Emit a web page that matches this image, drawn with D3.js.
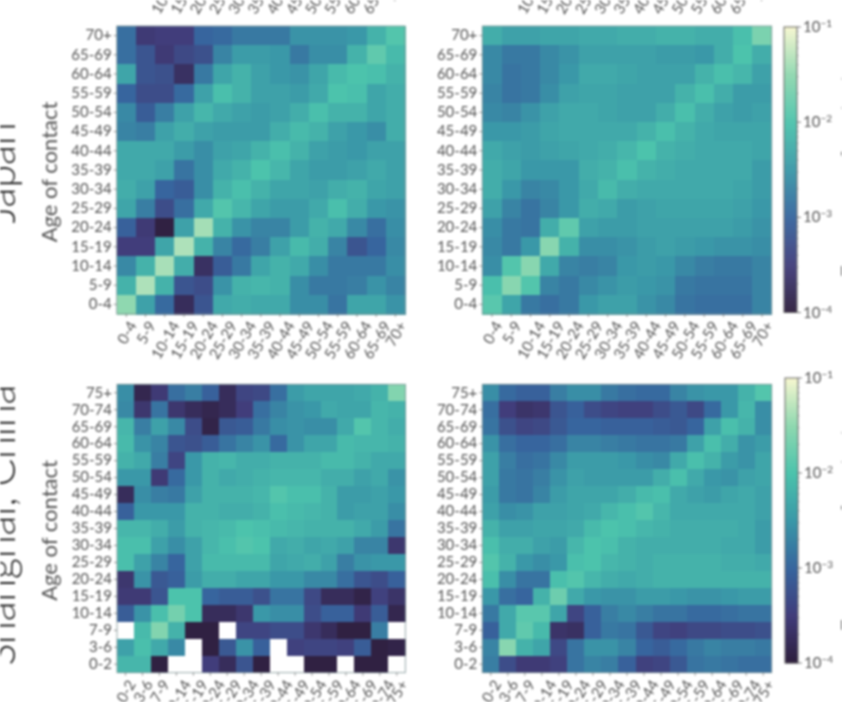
<!DOCTYPE html>
<html><head><meta charset="utf-8">
<script src="https://cdn.jsdelivr.net/npm/d3@7"></script>
<style>
html,body{margin:0;padding:0;background:#fff;overflow:hidden}
svg{display:block;filter:blur(0.8px)}
text{font-family:Lato,"Open Sans",sans-serif;font-weight:400}
</style></head><body><svg id="c" width="842" height="702"></svg>
<script>
const agesJapan=["0-4","5-9","10-14","15-19","20-24","25-29","30-34","35-39","40-44","45-49","50-54","55-59","60-64","65-69","70+"];
const agesShanghai=["0-2","3-6","7-9","10-14","15-19","20-24","25-29","30-34","35-39","40-44","45-49","50-54","55-59","60-64","65-69","70-74","75+"];
const colorStops=["#2e1e3c","#413d7b","#37659e","#3a98a8","#4cc3ac","#8fd8b0","#f7f7d0"];
const cbarTicks=[1e-4,1e-3,1e-2,1e-1];
const cbarLabels=["\u22124","\u22123","\u22122","\u22121"];
// log10 of the contact value, rows listed from the top row (oldest) to the bottom row (youngest)
const japanSurvey=[
[-2.9,-3.55,-3.5,-3.5,-3.0,-2.95,-2.8,-2.8,-2.8,-2.55,-2.55,-2.55,-2.5,-2.2,-1.95],
[-2.9,-3.2,-3.55,-3.35,-3.25,-2.7,-2.45,-2.45,-2.5,-2.8,-2.6,-2.6,-2.2,-1.85,-2.1],
[-2.35,-3.2,-3.25,-3.7,-2.8,-2.35,-2.2,-2.4,-2.5,-2.55,-2.35,-2.1,-2.0,-2.05,-2.2],
[-3.0,-3.3,-3.3,-2.95,-2.4,-2.05,-2.2,-2.4,-2.4,-2.45,-2.3,-2.0,-2.05,-2.35,-2.25],
[-2.65,-3.1,-2.75,-2.4,-2.15,-2.3,-2.4,-2.45,-2.4,-2.25,-2.05,-2.2,-2.2,-2.35,-2.25],
[-2.7,-2.75,-2.4,-2.25,-2.4,-2.45,-2.45,-2.45,-2.25,-2.1,-2.2,-2.4,-2.5,-2.6,-2.25],
[-2.3,-2.3,-2.3,-2.45,-2.6,-2.4,-2.35,-2.2,-2.05,-2.2,-2.4,-2.45,-2.5,-2.4,-2.4],
[-2.3,-2.3,-2.4,-2.85,-2.6,-2.3,-2.2,-2.0,-2.15,-2.35,-2.45,-2.45,-2.4,-2.3,-2.4],
[-2.25,-2.4,-3.0,-3.1,-2.6,-2.2,-2.05,-2.2,-2.35,-2.35,-2.4,-2.25,-2.2,-2.35,-2.4],
[-2.35,-2.75,-3.3,-2.9,-2.3,-1.95,-2.15,-2.35,-2.45,-2.45,-2.3,-2.05,-2.25,-2.5,-2.55],
[-3.05,-3.55,-3.95,-2.4,-1.4,-2.2,-2.55,-2.7,-2.7,-2.45,-2.2,-2.3,-2.65,-2.9,-2.6],
[-3.5,-3.5,-2.35,-1.35,-2.2,-2.7,-2.95,-2.75,-2.4,-2.1,-2.25,-2.7,-3.2,-3.0,-2.65],
[-2.65,-2.2,-1.38,-2.25,-3.7,-3.1,-2.8,-2.35,-2.2,-2.3,-2.6,-2.8,-2.8,-2.8,-2.6],
[-2.2,-1.35,-2.2,-3.2,-3.3,-2.55,-2.2,-2.15,-2.2,-2.6,-2.8,-2.8,-2.75,-2.55,-2.7],
[-1.5,-2.4,-2.95,-3.75,-3.2,-2.3,-2.25,-2.3,-2.3,-2.6,-2.6,-2.85,-2.35,-2.35,-2.55]];
const japanModel=[
[-2.25,-2.4,-2.4,-2.35,-2.35,-2.3,-2.3,-2.25,-2.25,-2.2,-2.2,-2.25,-2.25,-2.05,-1.65],
[-2.65,-2.8,-2.8,-2.65,-2.55,-2.4,-2.4,-2.4,-2.4,-2.45,-2.45,-2.5,-2.25,-2.0,-2.25],
[-2.65,-2.85,-2.8,-2.65,-2.5,-2.3,-2.3,-2.35,-2.4,-2.4,-2.4,-2.2,-2.05,-2.15,-2.4],
[-2.7,-2.85,-2.8,-2.6,-2.4,-2.35,-2.35,-2.4,-2.4,-2.4,-2.2,-2.05,-2.25,-2.45,-2.45],
[-2.65,-2.7,-2.55,-2.4,-2.3,-2.3,-2.35,-2.4,-2.4,-2.25,-2.05,-2.25,-2.4,-2.45,-2.4],
[-2.5,-2.5,-2.45,-2.35,-2.3,-2.3,-2.3,-2.3,-2.2,-2.05,-2.2,-2.3,-2.35,-2.35,-2.35],
[-2.3,-2.4,-2.45,-2.4,-2.35,-2.3,-2.25,-2.15,-2.0,-2.2,-2.25,-2.3,-2.3,-2.3,-2.35],
[-2.25,-2.35,-2.5,-2.5,-2.5,-2.25,-2.2,-2.05,-2.2,-2.25,-2.3,-2.3,-2.3,-2.3,-2.45],
[-2.25,-2.5,-2.7,-2.65,-2.5,-2.3,-2.1,-2.25,-2.3,-2.3,-2.3,-2.3,-2.3,-2.35,-2.45],
[-2.4,-2.7,-2.85,-2.7,-2.5,-2.25,-2.3,-2.45,-2.4,-2.35,-2.35,-2.35,-2.35,-2.4,-2.5],
[-2.6,-2.8,-2.85,-2.25,-1.85,-2.4,-2.45,-2.45,-2.4,-2.4,-2.4,-2.4,-2.4,-2.45,-2.55],
[-2.65,-2.8,-2.5,-1.55,-2.2,-2.6,-2.6,-2.55,-2.45,-2.4,-2.45,-2.5,-2.55,-2.55,-2.6],
[-2.6,-1.95,-1.55,-2.3,-2.7,-2.75,-2.7,-2.5,-2.45,-2.5,-2.65,-2.75,-2.8,-2.8,-2.7],
[-2.05,-1.55,-1.95,-2.7,-2.8,-2.65,-2.55,-2.45,-2.5,-2.55,-2.8,-2.85,-2.85,-2.85,-2.7],
[-1.9,-2.35,-2.8,-2.9,-2.8,-2.5,-2.4,-2.4,-2.55,-2.65,-2.85,-2.9,-2.9,-2.9,-2.7]];
const shanghaiSurvey=[
[-2.6,-3.85,-3.55,-2.9,-2.75,-3.05,-3.75,-3.4,-3.35,-2.9,-2.45,-2.35,-2.35,-2.35,-2.3,-2.2,-1.6],
[-2.65,-3.6,-2.85,-3.6,-3.75,-3.85,-3.75,-3.5,-2.9,-2.7,-2.55,-2.5,-2.3,-2.35,-2.35,-2.15,-2.2],
[-2.15,-2.75,-2.4,-2.65,-3.3,-3.9,-3.15,-3.1,-2.8,-2.6,-2.55,-2.6,-2.6,-2.3,-1.95,-2.15,-2.25],
[-2.1,-2.55,-2.7,-3.2,-3.25,-3.1,-2.85,-2.7,-2.55,-2.95,-2.55,-2.35,-2.35,-2.1,-2.15,-2.15,-2.2],
[-2.2,-2.3,-2.75,-3.4,-2.5,-2.2,-2.15,-2.25,-2.25,-2.2,-2.2,-2.2,-2.1,-2.1,-2.2,-2.3,-2.3],
[-2.5,-2.5,-3.55,-2.95,-2.5,-2.2,-2.3,-2.25,-2.2,-2.15,-2.15,-2.15,-2.25,-2.25,-2.4,-2.3,-2.55],
[-3.75,-2.6,-2.75,-2.8,-2.4,-2.2,-2.2,-2.2,-2.15,-1.95,-2.05,-2.05,-2.2,-2.45,-2.45,-2.4,-2.5],
[-3.05,-2.5,-2.5,-2.5,-2.2,-2.2,-2.25,-2.25,-2.2,-2.05,-2.1,-2.15,-2.2,-2.45,-2.4,-2.4,-2.6],
[-2.15,-2.15,-2.25,-2.45,-2.2,-2.15,-2.1,-2.0,-2.05,-2.1,-2.15,-2.2,-2.2,-2.2,-2.3,-2.45,-2.85],
[-2.05,-2.05,-2.4,-2.6,-2.4,-2.15,-2.05,-1.95,-2.0,-2.3,-2.25,-2.35,-2.3,-2.4,-2.7,-2.7,-3.6],
[-2.05,-2.4,-2.7,-3.0,-2.4,-2.1,-2.1,-2.1,-2.1,-2.35,-2.3,-2.25,-2.4,-2.75,-2.55,-2.5,-2.5],
[-3.6,-2.55,-3.15,-3.05,-2.45,-2.25,-2.25,-2.35,-2.35,-2.5,-2.5,-2.65,-2.65,-2.9,-3.2,-3.3,-3.05],
[-3.55,-3.55,-3.2,-2.0,-2.0,-3.0,-3.1,-3.1,-3.25,-2.85,-2.85,-3.35,-3.75,-3.75,-3.9,-3.45,-3.65],
[-3.1,-2.55,-2.05,-1.7,-2.0,-3.75,-3.75,-3.6,-2.5,-2.6,-2.6,-3.3,-3.05,-3.05,-3.55,-3.1,-3.85],
[null,-2.1,-1.6,-2.2,-3.95,-3.95,null,-3.4,-3.4,-3.3,-3.3,-3.6,-3.75,-3.95,-3.95,-2.75,null],
[-2.4,-2.05,-2.3,-2.65,null,-3.95,-3.15,-2.55,-3.05,null,-3.45,-3.4,-3.4,-3.45,-3.1,-3.95,-3.9],
[-2.15,-2.15,-3.95,null,null,-3.5,-3.75,-3.2,-3.95,null,null,-3.95,-3.95,null,-3.95,-3.95,null]];
const shanghaiModel=[
[-2.6,-2.95,-3.05,-3.05,-2.75,-2.6,-2.6,-2.8,-2.9,-2.95,-2.95,-2.7,-2.55,-2.5,-2.5,-2.2,-1.95],
[-2.9,-3.5,-3.65,-3.6,-3.2,-3.05,-3.3,-3.4,-3.45,-3.45,-3.3,-3.15,-3.35,-2.95,-2.5,-2.15,-2.6],
[-2.85,-3.25,-3.4,-3.35,-3.15,-3.0,-3.0,-3.05,-3.05,-3.05,-3.1,-3.15,-3.0,-2.4,-2.05,-2.2,-2.6],
[-2.55,-2.9,-3.0,-3.0,-2.9,-2.7,-2.7,-2.75,-2.8,-2.85,-2.85,-2.8,-2.4,-2.05,-2.25,-2.55,-2.45],
[-2.4,-2.75,-2.9,-2.85,-2.65,-2.45,-2.45,-2.45,-2.5,-2.6,-2.65,-2.3,-2.05,-2.2,-2.45,-2.55,-2.35],
[-2.4,-2.8,-2.85,-2.75,-2.55,-2.4,-2.45,-2.45,-2.45,-2.45,-2.25,-2.05,-2.3,-2.5,-2.55,-2.4,-2.35],
[-2.45,-2.8,-2.85,-2.7,-2.45,-2.35,-2.35,-2.35,-2.25,-2.1,-2.05,-2.3,-2.4,-2.45,-2.35,-2.3,-2.4],
[-2.4,-2.6,-2.55,-2.4,-2.4,-2.35,-2.3,-2.15,-2.05,-1.95,-2.15,-2.3,-2.3,-2.3,-2.3,-2.3,-2.4],
[-2.2,-2.4,-2.4,-2.35,-2.35,-2.3,-2.1,-2.0,-2.05,-2.15,-2.2,-2.25,-2.25,-2.25,-2.25,-2.3,-2.45],
[-2.05,-2.25,-2.25,-2.4,-2.45,-2.15,-2.0,-2.05,-2.2,-2.25,-2.25,-2.25,-2.25,-2.25,-2.3,-2.3,-2.45],
[-1.95,-2.2,-2.5,-2.6,-2.5,-2.05,-2.0,-2.15,-2.2,-2.25,-2.2,-2.2,-2.2,-2.2,-2.25,-2.25,-2.3],
[-2.05,-2.6,-2.85,-2.85,-2.05,-1.95,-2.15,-2.25,-2.3,-2.25,-2.2,-2.2,-2.2,-2.2,-2.2,-2.2,-2.2],
[-2.5,-2.9,-3.0,-2.2,-1.75,-2.3,-2.5,-2.55,-2.55,-2.45,-2.45,-2.5,-2.55,-2.55,-2.5,-2.45,-2.45],
[-2.8,-2.3,-1.9,-1.9,-2.35,-3.4,-3.05,-2.75,-2.65,-2.75,-2.85,-2.85,-2.95,-2.95,-2.9,-2.85,-2.85],
[-3.05,-2.3,-1.85,-2.1,-3.65,-3.7,-3.05,-2.8,-2.85,-3.15,-3.4,-3.45,-3.35,-3.35,-3.3,-3.3,-3.25],
[-2.7,-1.55,-2.2,-2.35,-3.35,-2.85,-2.55,-2.55,-2.7,-3.0,-3.1,-2.95,-2.8,-2.7,-2.75,-2.75,-2.8],
[-2.75,-3.3,-3.55,-3.55,-3.45,-2.85,-2.7,-2.75,-3.05,-3.45,-3.4,-3.15,-2.85,-2.8,-2.85,-2.9,-2.9]];

const INK="#555";
const TICK=15;
const svg=d3.select("#c");
const color=d3.scaleSequentialLog(d3.piecewise(d3.interpolateRgb,colorStops)).domain([1e-4,1e-1]);

function xLabels(sel,yOff){
  sel.each(function(){
    const w=this.getComputedTextLength(),a=Math.PI/3,h=13;
    const half=(w*Math.sin(a)+h*Math.cos(a))/2;
    d3.select(this).attr("text-anchor","middle").attr("dy",null).attr("dominant-baseline","central")
      .attr("y",null).attr("transform",`translate(0,${yOff+half}) rotate(-60)`);
  });
}
function heat(rows,ages,x0,x1,y0,y1,yLabel){
  const g=svg.append("g");
  const x=d3.scaleBand().domain(ages).range([x0,x1]).padding(0);
  const y=d3.scaleBand().domain([...ages].reverse()).range([y0,y1]).padding(0);
  rows.forEach((row,r)=>row.forEach((v,c)=>{
    g.append("rect").attr("x",x(ages[c])).attr("y",y(ages[ages.length-1-r]))
     .attr("width",x.bandwidth()+0.5).attr("height",y.bandwidth()+0.5)
     .attr("shape-rendering","crispEdges")
     .attr("fill",v===null?"#fff":color(Math.pow(10,v)));
  }));
  g.append("rect").attr("x",x0).attr("y",y0).attr("width",x1-x0).attr("height",y1-y0)
   .attr("fill","none").attr("stroke","#7f9496").attr("stroke-width",0.8);
  const ax=d3.axisBottom(x).tickSize(3).tickPadding(2);
  const bx=g.append("g").attr("transform",`translate(0,${y1})`).call(ax);
  bx.selectAll("text").attr("font-size",TICK).attr("fill",INK).call(xLabels,5);
  const ay=d3.axisLeft(y).tickSize(3).tickPadding(2);
  const by=g.append("g").attr("transform",`translate(${x0},0)`).call(ay);
  by.selectAll("text").attr("font-size",TICK).attr("fill",INK);
  [bx,by].forEach(s=>{s.select(".domain").remove();s.selectAll("line").attr("stroke","#666").attr("stroke-width",0.7);});
  if(yLabel) g.append("text").attr("transform",`translate(57,${(y0+y1)/2+2}) rotate(-90)`)
    .attr("text-anchor","middle").attr("font-size",22).attr("fill",INK).text(yLabel);
  return x;
}
function cutTop(ages,x0,x1){ // labels of the row above, cut by the top edge
  const x=d3.scaleBand().domain(ages).range([x0,x1]);
  const g=svg.append("g").attr("transform","translate(0,-31)").call(d3.axisBottom(x).tickSize(3).tickPadding(2));
  g.select(".domain").remove();g.selectAll("line").remove();
  g.selectAll("text").attr("font-size",TICK).attr("fill",INK).call(xLabels,5);
}
function cbar(x0,x1,y0,y1,label,cy){
  const g=svg.append("g");
  const y=d3.scaleLog().domain([1e-4,1e-1]).range([y1,y0]);
  const n=d3.range(0,Math.round(y1-y0));
  g.selectAll("rect.s").data(n).join("rect").attr("class","s")
   .attr("x",x0).attr("width",x1-x0).attr("y",d=>y1-d-1).attr("height",1.4)
   .attr("fill",d=>color(y.invert(y1-d-0.5)));
  g.append("rect").attr("x",x0).attr("y",y0).attr("width",x1-x0).attr("height",y1-y0)
   .attr("fill","none").attr("stroke","#666").attr("stroke-width",1);
  const minor=[];cbarTicks.slice(0,3).forEach(t=>{for(let k=2;k<10;k++)minor.push(t*k);});
  g.selectAll("line.m").data(minor).join("line").attr("x1",x1).attr("x2",x1+1.5)
   .attr("y1",d=>y(d)).attr("y2",d=>y(d)).attr("stroke","#777").attr("stroke-width",0.6);
  g.selectAll("line.t").data(cbarTicks).join("line").attr("x1",x1).attr("x2",x1+4)
   .attr("y1",d=>y(d)).attr("y2",d=>y(d)).attr("stroke","#555").attr("stroke-width",0.8);
  const t=g.selectAll("text.t").data(cbarTicks).join("text").attr("class","t")
   .attr("x",x1+6).attr("y",d=>y(d)+5).attr("font-size",TICK).attr("fill",INK);
  t.append("tspan").text("10");
  t.append("tspan").attr("font-size",10).attr("dy",-5).text((d,i)=>cbarLabels[i]);
  svg.append("text").attr("transform",`translate(855.5,${cy}) rotate(-90)`).attr("text-anchor","middle")
   .attr("font-size",22).attr("fill",INK).text(label);
}
heat(japanSurvey,agesJapan,116.7,405,26,314,"Age of contact");
heat(japanModel,agesJapan,482.3,771.7,26,314,null);
heat(shanghaiSurvey,agesShanghai,117,405.3,384.3,672.7,"Age of contact");
heat(shanghaiModel,agesShanghai,482.3,771.7,384.3,672.7,null);
cutTop(agesJapan,116.7,405);cutTop(agesJapan,482.3,771.7);
cbar(784,797,27,312.5,"Frequency of contact",176);
cbar(785,798,378,663,"Frequency of contact",530);
[["Japan",173],["Shanghai, China",525]].forEach(([s,yc])=>{
  svg.append("text").attr("transform",`translate(15,${yc}) rotate(-90)`).attr("text-anchor","middle")
   .attr("font-size",41).style("font-weight",300).attr("fill","#222").text(s);
});
</script></body></html>
